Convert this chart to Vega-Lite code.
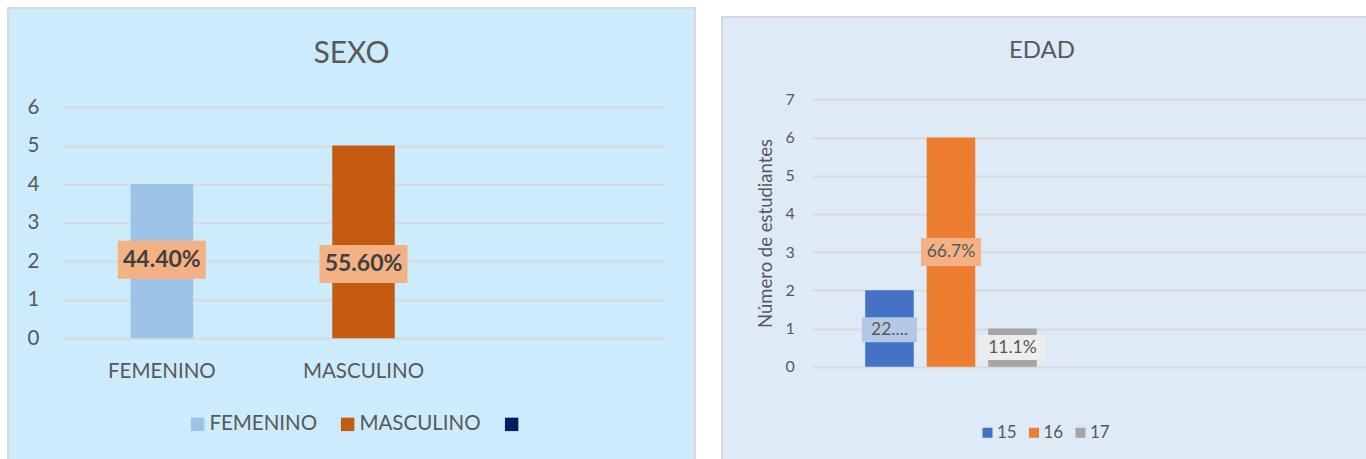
{
  "$schema": "https://vega.github.io/schema/vega-lite/v6.json",
  "background": "white",
  "padding": {"left": 7, "top": 7, "right": 0, "bottom": 0},
  "config": {"font": "Lato", "axis": {"domain": false, "ticks": false, "labelFont": "Lato", "titleFont": "Lato"}, "legend": {"labelFont": "Lato"}, "title": {"font": "Lato"}},
  "datasets": {
    "sexo": [
      {"sexo": "FEMENINO", "n": 4, "pct": "44.40%", "labelY": 2.04},
      {"sexo": "MASCULINO", "n": 5, "pct": "55.60%", "labelY": 1.93}
    ],
    "edad": [
      {"grupo": "g1", "edad": "15", "n": 2, "pct": "22....", "labelY": 0.97},
      {"grupo": "g1", "edad": "16", "n": 6, "pct": "66.7%", "labelY": 3.0},
      {"grupo": "g1", "edad": "17", "n": 1, "pct": "11.1%", "labelY": 0.5}
    ]
  },
  "spacing": 25,
  "center": true,
  "resolve": {"scale": {"color": "independent", "fill": "independent", "x": "independent", "y": "independent"}, "legend": {"color": "independent"}},
  "hconcat": [
    {
      "width": 687,
      "height": 480,
      "view": {"fill": "#CCEBFB", "stroke": "#D9D9D9", "strokeWidth": 2},
      "title": {"text": "SEXO", "fontSize": 30, "fontWeight": "normal", "color": "#595959", "frame": "group", "anchor": "middle", "offset": -85, "baseline": "alphabetic"},
      "data": {"name": "sexo"},
      "encoding": {
        "x": {"field": "sexo", "type": "nominal", "sort": null,
          "scale": {"domain": ["FEMENINO", "MASCULINO", " "], "range": [53, 658], "paddingInner": 0.69, "paddingOuter": 0.345},
          "axis": {"title": null, "labelAngle": 0, "labelFontSize": 20.5, "labelColor": "#595959", "labelPadding": 23, "offset": -149.7, "grid": false, "domain": false, "ticks": false}},
        "y": {"field": "n", "type": "quantitative",
          "scale": {"domain": [0, 6], "range": [330.3, 99], "nice": false, "zero": true},
          "axis": {"title": null, "values": [0, 1, 2, 3, 4, 5, 6], "labelFontSize": 20.5, "labelColor": "#595959", "labelPadding": 22, "offset": -53, "grid": true, "gridColor": "#D9D9D9", "gridWidth": 2, "domain": false, "ticks": false}}
      },
      "layer": [
        {
          "mark": {"type": "bar"},
          "encoding": {
            "color": {"field": "sexo", "type": "nominal",
              "scale": {"domain": ["FEMENINO", "MASCULINO", " "], "range": ["#9DC3E6", "#C55A11", "#002060"]},
              "legend": {"orient": "none", "legendX": 179.4, "legendY": 406, "direction": "horizontal", "title": null, "symbolType": "square", "symbolSize": 180, "symbolStrokeWidth": 0, "symbolOpacity": 1, "labelFontSize": 20.5, "labelColor": "#595959", "columnPadding": 20, "labelOffset": 1.5, "padding": 0}}
          }
        },
        {
          "mark": {"type": "point", "shape": "M-1,-0.432L1,-0.432L1,0.432L-1,0.432Z", "size": 7744, "filled": true, "color": "#F4B183", "opacity": 1, "strokeWidth": 0},
          "encoding": {"y": {"field": "labelY", "type": "quantitative", "title": null}}
        },
        {
          "mark": {"type": "text", "fontWeight": "bold", "fontSize": 23, "color": "#404040", "baseline": "middle", "align": "center"},
          "encoding": {"y": {"field": "labelY", "type": "quantitative", "title": null}, "text": {"field": "pct"}}
        }
      ]
    },
    {
      "width": 650,
      "height": 462,
      "view": {"fill": "#DEEAF6", "stroke": "#D9D9D9", "strokeWidth": 2},
      "title": {"text": "EDAD", "fontSize": 24, "fontWeight": "normal", "color": "#595959", "frame": "group", "anchor": "middle", "offset": -65, "baseline": "alphabetic", "dx": -5},
      "data": {"name": "edad"},
      "encoding": {
        "x": {"field": "grupo", "type": "nominal",
          "scale": {"domain": ["g1", "g2"], "range": [90.3, 645], "paddingInner": 0, "paddingOuter": 0},
          "axis": null},
        "xOffset": {"field": "edad", "type": "nominal",
          "scale": {"domain": ["15", "16", "17"], "paddingInner": 0.21, "paddingOuter": 0.86}},
        "y": {"field": "n", "type": "quantitative",
          "scale": {"domain": [0, 7], "range": [349.7, 82.3], "nice": false, "zero": true},
          "axis": {"title": "Número de estudiantes", "titleFontSize": 18.5, "titleFontWeight": "normal", "titleColor": "#595959", "titlePadding": 10, "values": [0, 1, 2, 3, 4, 5, 6, 7], "labelFontSize": 16, "labelColor": "#595959", "labelPadding": 18, "offset": -90.3, "grid": true, "gridColor": "#D9D9D9", "gridWidth": 2, "domain": false, "ticks": false}}
      },
      "layer": [
        {
          "mark": {"type": "bar"},
          "encoding": {
            "color": {"field": "edad", "type": "nominal",
              "scale": {"domain": ["15", "16", "17"], "range": ["#4472C4", "#ED7D31", "#A5A5A5"]},
              "legend": {"orient": "none", "legendX": 257, "legendY": 407, "direction": "horizontal", "title": null, "symbolType": "square", "symbolSize": 100, "symbolStrokeWidth": 0, "symbolOpacity": 1, "labelFontSize": 17, "labelColor": "#595959", "columnPadding": 8.5, "labelOffset": 1, "padding": 0}}
          }
        },
        {
          "mark": {"type": "point", "filled": true, "opacity": 1, "strokeWidth": 0},
          "encoding": {
            "y": {"field": "labelY", "type": "quantitative", "title": "Número de estudiantes"},
            "fill": {"field": "edad", "type": "nominal", "scale": {"domain": ["15", "16", "17"], "range": ["#B4C7E7", "#F4B183", "#EDEDED"]}, "legend": null},
            "size": {"condition": [{"test": "datum.edad === '15'", "value": 3025}, {"test": "datum.edad === '17'", "value": 4624}], "value": 3600},
            "shape": {"condition": [{"test": "datum.edad === '15'", "value": "M-1,-0.4545L1,-0.4545L1,0.4545L-1,0.4545Z"}, {"test": "datum.edad === '17'", "value": "M-1,-0.3676L1,-0.3676L1,0.3676L-1,0.3676Z"}], "value": "M-1,-0.4667L1,-0.4667L1,0.4667L-1,0.4667Z"}
          }
        },
        {
          "mark": {"type": "text", "fontSize": 17.5, "color": "#595959", "baseline": "middle", "align": "center"},
          "encoding": {"y": {"field": "labelY", "type": "quantitative", "title": "Número de estudiantes"}, "text": {"field": "pct"}}
        }
      ]
    }
  ]
}
